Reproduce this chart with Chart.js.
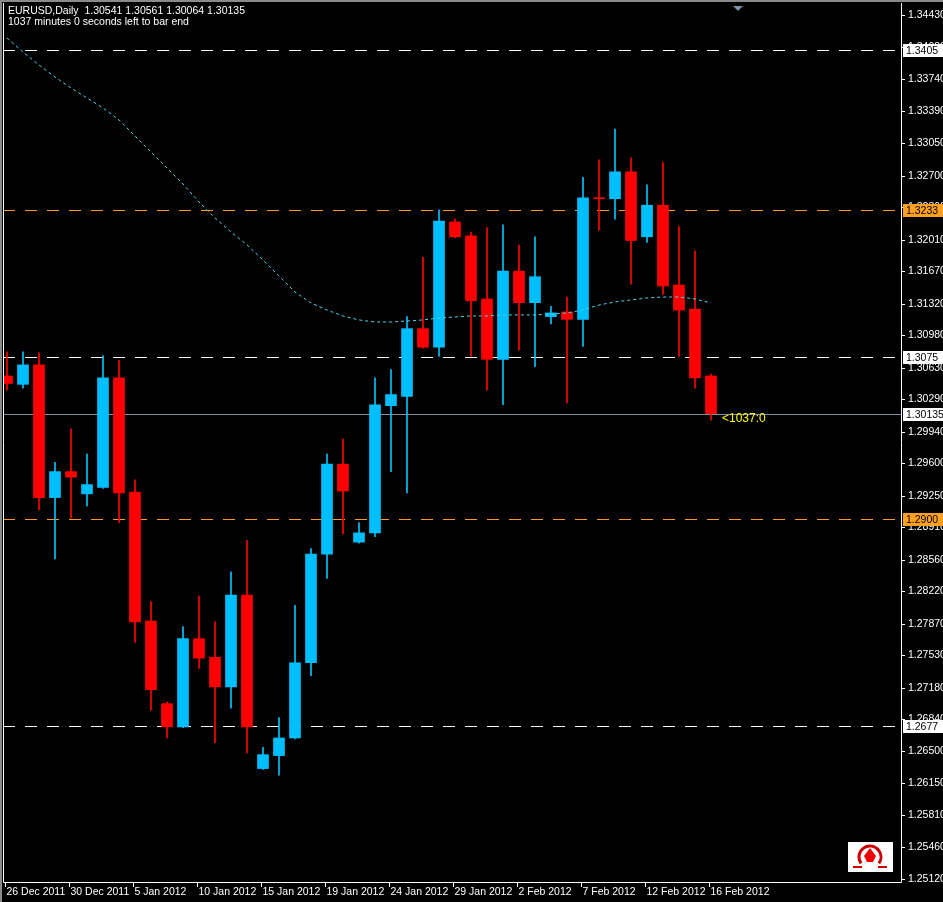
<!DOCTYPE html>
<html><head><meta charset="utf-8">
<script src="https://cdn.jsdelivr.net/npm/chart.js@4/dist/chart.umd.min.js"></script>
<style>html,body{margin:0;padding:0;background:#000;}#w{width:943px;height:902px;}</style>
</head><body><div id="w"><canvas id="c" width="943" height="902"></canvas></div>
<script>
const opens  = [1.3054,1.3045,1.3066,1.2923,1.2951,1.2927,1.2934,1.3052,1.2929,1.2790,1.2701,1.2676,1.2771,1.2751,1.2719,1.2818,1.2631,1.2645,1.2664,1.2745,1.2862,1.2959,1.2875,1.2885,1.3022,1.3032,1.3105,1.3085,1.3220,1.3205,1.3137,1.3072,1.3167,1.3133,1.3118,1.3123,1.3115,1.3246,1.3245,1.3274,1.3204,1.3238,1.3152,1.3126,1.30541];
const highs  = [1.3080,1.3080,1.3079,1.2961,1.2997,1.2970,1.3076,1.3071,1.2942,1.2811,1.2703,1.2784,1.2817,1.2789,1.2843,1.2877,1.2654,1.2686,1.2807,1.2868,1.2970,1.2986,1.2896,1.3052,1.3061,1.3118,1.3182,1.3233,1.3223,1.3209,1.3214,1.3217,1.3195,1.3204,1.3129,1.3139,1.3268,1.3287,1.3320,1.3289,1.3260,1.3284,1.3215,1.3189,1.30561];
const lows   = [1.3039,1.3041,1.2910,1.2857,1.2901,1.2914,1.2933,1.2896,1.2767,1.2694,1.2664,1.2675,1.2739,1.2659,1.2696,1.2648,1.2630,1.2624,1.2663,1.2731,1.2836,1.2884,1.2874,1.2881,1.2951,1.2928,1.3084,1.3075,1.3203,1.3075,1.3039,1.3023,1.3082,1.3064,1.3110,1.3025,1.3086,1.3211,1.3223,1.3153,1.3198,1.3142,1.3075,1.3041,1.30064];
const closes = [1.3046,1.3066,1.2923,1.2951,1.2945,1.2937,1.3052,1.2928,1.2789,1.2716,1.2676,1.2771,1.2750,1.2719,1.2818,1.2676,1.2646,1.2664,1.2745,1.2862,1.2959,1.2930,1.2885,1.3023,1.3034,1.3105,1.3085,1.3221,1.3204,1.3135,1.3072,1.3167,1.3133,1.3161,1.3122,1.3115,1.3246,1.3245,1.3274,1.3200,1.3238,1.3151,1.3125,1.3052,1.30135];
const maValues = [1.34182,1.34031,1.33891,1.33762,1.33643,1.33536,1.33428,1.33299,1.33126,1.32954,1.32781,1.32609,1.32415,1.32243,1.32092,1.31952,1.31790,1.31618,1.31445,1.31327,1.31251,1.31187,1.31144,1.31122,1.31122,1.31133,1.31144,1.31165,1.31176,1.31187,1.31187,1.31198,1.31198,1.31198,1.31208,1.31219,1.31251,1.31305,1.31338,1.31359,1.31381,1.31391,1.31391,1.31370,1.31327];
const dateLabels = ["26 Dec 2011","30 Dec 2011","5 Jan 2012","10 Jan 2012","15 Jan 2012","19 Jan 2012","24 Jan 2012","29 Jan 2012","2 Feb 2012","7 Feb 2012","12 Feb 2012","16 Feb 2012"];
const priceTicks = [1.34430,1.34080,1.33740,1.33390,1.33050,1.32700,1.32360,1.32010,1.31670,1.31320,1.30980,1.30630,1.30290,1.29940,1.29600,1.29250,1.28910,1.28560,1.28220,1.27870,1.27530,1.27180,1.26840,1.26500,1.26150,1.25810,1.25460,1.25120];
const levelPrices = [1.3405,1.3233,1.3075,1.2900,1.2677];
const levelLabels = ["1.3405","1.3233","1.3075","1.2900","1.2677"];
const levelKinds  = ["w","o","w","o","w"];
const bidPrice = 1.30135, bidLabel = "1.30135";

const RED='#ff0000', BLUE='#00bfff';
const idx = opens.map((_,i)=>i);
const col = idx.map(i=>closes[i]>=opens[i]?BLUE:RED);
const wickData = idx.map(i=>({x:i,y:[lows[i],highs[i]]}));
const bodyData = idx.map(i=>{let a=Math.min(opens[i],closes[i]),b=Math.max(opens[i],closes[i]);if(b-a<0.00011)b=a+0.00011;return {x:i,y:[a,b]};});
const maData = idx.map(i=>({x:i,y:maValues[i]}));
const F='"Liberation Sans", Tahoma, sans-serif';

const deco = {
  id:'deco',
  beforeDraw(ch){
    const c=ch.ctx; c.save(); c.fillStyle='#000'; c.fillRect(0,0,943,902);
    c.fillStyle='#8a8a8a'; c.fillRect(0,0,2,902); c.fillRect(0,0,943,2);
    c.restore();
  },
  beforeDatasetsDraw(ch){
    const c=ch.ctx, y=ch.scales.y, a=ch.chartArea; c.save();
    levelPrices.forEach((p,k)=>{
      const py=Math.round(y.getPixelForValue(p))+0.5;
      c.strokeStyle=levelKinds[k]==='o'?'#ff9a1a':'#ffffff'; c.lineWidth=1; c.setLineDash([12,10]);
      c.beginPath(); c.moveTo(a.left,py); c.lineTo(a.right,py); c.stroke();
    });
    c.setLineDash([]); c.strokeStyle='#7f8fa8';
    const by=Math.round(y.getPixelForValue(bidPrice))+0.5;
    c.beginPath(); c.moveTo(a.left,by); c.lineTo(a.right,by); c.stroke();
    c.restore();
  },
  afterDraw(ch){
    const c=ch.ctx, y=ch.scales.y, x=ch.scales.x, a=ch.chartArea; c.save();
    c.strokeStyle='#ffffff'; c.lineWidth=1;
    c.beginPath(); c.moveTo(a.left+0.5,a.top); c.lineTo(a.left+0.5,a.bottom+0.5); c.lineTo(a.right+0.5,a.bottom+0.5); c.lineTo(a.right+0.5,a.top); c.stroke();
    c.font='10.5px '+F; c.fillStyle='#ffffff'; c.textBaseline='middle'; c.textAlign='left';
    priceTicks.forEach(p=>{const py=Math.round(y.getPixelForValue(p))+0.5;
      c.beginPath(); c.moveTo(a.right,py); c.lineTo(a.right+4,py); c.stroke();
      c.fillText(p.toFixed(5),a.right+7,py);});
    c.textBaseline='alphabetic';
    for(let k=0;k<dateLabels.length;k++){const px=Math.round(x.getPixelForValue(k*4))-2+0.5;
      c.beginPath(); c.moveTo(px,a.bottom); c.lineTo(px,a.bottom+5); c.stroke();
      c.fillText(dateLabels[k],px+1,a.bottom+13);}
    const box=(p,txt,bg,fg)=>{const py=Math.round(y.getPixelForValue(p));
      c.fillStyle=bg; c.fillRect(a.right+2,py-6,41,13);
      c.fillStyle=fg; c.textBaseline='middle'; c.fillText(txt,a.right+5,py+1);};
    levelPrices.forEach((p,k)=>box(p,levelLabels[k],levelKinds[k]==='o'?'#ffa020':'#ffffff','#000'));
    box(bidPrice,bidLabel,'#ffffff','#000');
    c.textBaseline='alphabetic'; c.fillStyle='#ffffff'; c.font='10.5px '+F;
    c.fillText('EURUSD,Daily  1.30541 1.30561 1.30064 1.30135',8,14);
    c.fillText('1037 minutes 0 seconds left to bar end',8,25);
    c.fillStyle='#ffff00'; c.font='12px '+F;
    c.fillText('<1037:0',722,422);
    c.fillStyle='#8090a0'; c.beginPath(); c.moveTo(733,6); c.lineTo(743,6); c.lineTo(738,11); c.fill();
    c.fillStyle='#ffffff'; c.fillRect(848,842,45,30);
    c.strokeStyle='#cc0000'; c.lineWidth=3; c.beginPath(); c.arc(870,857,11,Math.PI*0.8,Math.PI*2.2); c.stroke();
    c.lineWidth=2; c.beginPath(); c.moveTo(853,867); c.lineTo(862,867); c.moveTo(878,867); c.lineTo(887,867); c.stroke();
    c.fillStyle='#ee0000'; c.beginPath(); c.moveTo(870,848); c.lineTo(876,856); c.lineTo(873,862); c.lineTo(867,862); c.lineTo(864,856); c.fill();
    c.restore();
  }
};

new Chart(document.getElementById('c'),{
  data:{datasets:[
    {type:'line',data:maData,borderColor:'#48d8f0',borderWidth:1,borderDash:[3,3],pointRadius:0,fill:false,order:0},
    {type:'bar',data:wickData,backgroundColor:col,barThickness:1,grouped:false,order:2},
    {type:'bar',data:bodyData,backgroundColor:col,barThickness:11,grouped:false,order:1}
  ]},
  options:{responsive:false,animation:false,devicePixelRatio:1,
    layout:{padding:{left:3,top:3,right:42,bottom:20}},
    plugins:{legend:{display:false},tooltip:{enabled:false}},
    scales:{
      x:{type:'linear',min:-0.25,max:55.875,offset:false,display:false},
      y:{type:'linear',min:1.25088,max:1.34559,display:false}
    }},
  plugins:[deco]
});
</script></body></html>
